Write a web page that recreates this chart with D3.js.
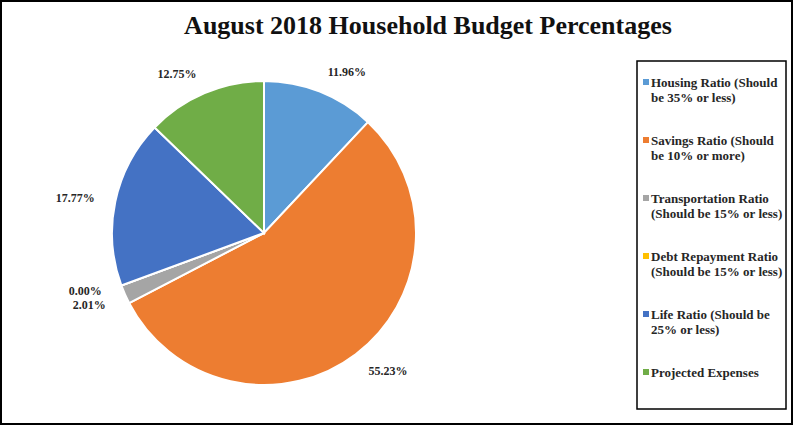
<!DOCTYPE html>
<html lang="en">
<head>
    <meta charset="utf-8">
    <title>August 2018 Household Budget Percentages</title>
    <script src="https://d3js.org/d3.v7.min.js"></script>
    <style>
        body { margin: 0; background: #fff; }
        text { font-family: "Liberation Serif", "DejaVu Serif", serif; font-weight: bold; }
    </style>
</head>
<body>
<div id="chart"></div>
<script>
    // Data
    var categories = [
        "Housing Ratio (Should be 35% or less)",
        "Savings Ratio (Should be 10% or more)",
        "Transportation Ratio (Should be 15% or less)",
        "Debt Repayment Ratio (Should be 15% or less)",
        "Life Ratio (Should be 25% or less)",
        "Projected Expenses"
    ]
    // legend lines, as wrapped in the picture
    var legendLines = [
        ["Housing Ratio (Should", "be 35% or less)"],
        ["Savings Ratio (Should", "be 10% or more)"],
        ["Transportation Ratio", "(Should be 15% or less)"],
        ["Debt Repayment Ratio", "(Should be 15% or less)"],
        ["Life Ratio (Should be", "25% or less)"],
        ["Projected Expenses"]
    ]
    var values = [11.96, 55.23, 2.01, 0.00, 17.77, 12.75]
    var colors = ["#5B9BD5", "#ED7D31", "#A5A5A5", "#FFC000", "#4472C4", "#70AD47"]

    var W = 793, H = 425
    var cx = 264, cy = 233, radius = 152

    var svg = d3.select("#chart")
        .append("svg")
        .attr("width", W)
        .attr("height", H)

    // outer frame
    svg.append("rect")
        .attr("x", 1).attr("y", 1)
        .attr("width", W - 2).attr("height", H - 2)
        .attr("fill", "#fff")
        .attr("stroke", "#000")
        .attr("stroke-width", 2)

    // title
    svg.append("text")
        .attr("x", 428)
        .attr("y", 34)
        .attr("text-anchor", "middle")
        .attr("font-size", 26)
        .attr("fill", "#111")
        .text("August 2018 Household Budget Percentages")

    var color = d3.scaleOrdinal().domain(categories).range(colors)

    var pie = d3.pie()
        .sort(null)
        .value(function (d) { return d.value })

    var rows = categories.map(function (c, i) { return { name: c, value: values[i] } })
    var arcs = pie(rows)

    var arc = d3.arc().innerRadius(0).outerRadius(radius)
    var labelArc = d3.arc().innerRadius(radius + 21).outerRadius(radius + 21)

    var g = svg.append("g")
        .attr("transform", "translate(" + cx + "," + cy + ")")

    g.selectAll("path")
        .data(arcs)
        .enter()
        .append("path")
        .attr("d", arc)
        .attr("fill", function (d) { return color(d.data.name) })
        .attr("stroke", "#fff")
        .attr("stroke-width", 2)

    // label positions, pushed apart a little when two sit too close
    var labelPos = arcs.map(function (d) {
        var p = labelArc.centroid(d)
        var mid = (d.startAngle + d.endAngle) / 2
        return { x: p[0], y: p[1], left: mid >= Math.PI }
    })
    var minGap = 14
    for (var i = 1; i < labelPos.length; i++) {
        var a = labelPos[i - 1], b = labelPos[i]
        if (a.left === b.left && Math.abs(a.y - b.y) < minGap) {
            var shift = (minGap - Math.abs(a.y - b.y)) / 2
            if (a.y < b.y) { a.y -= shift; b.y += shift } else { a.y += shift; b.y -= shift }
        }
    }

    // percentage labels outside the slices
    g.selectAll("text.lbl")
        .data(arcs)
        .enter()
        .append("text")
        .attr("class", "lbl")
        .attr("x", function (d, i) { return labelPos[i].x })
        .attr("y", function (d, i) { return labelPos[i].y })
        .attr("text-anchor", function (d, i) { return labelPos[i].left ? "end" : "start" })
        .attr("dy", "0.35em")
        .attr("font-size", 12)
        .attr("fill", "#262626")
        .text(function (d) { return d.data.value.toFixed(2) + "%" })

    // legend
    var legend = svg.append("g")
    legend.append("rect")
        .attr("x", 637).attr("y", 61)
        .attr("width", 149).attr("height", 348)
        .attr("fill", "none")
        .attr("stroke", "#000")
        .attr("stroke-width", 1.5)

    var item = legend.selectAll("g.item")
        .data(categories)
        .enter()
        .append("g")
        .attr("class", "item")
        .attr("transform", function (d, i) { return "translate(643," + (82 + i * 58) + ")" })

    item.append("rect")
        .attr("x", 0).attr("y", -3)
        .attr("width", 6).attr("height", 6)
        .attr("fill", function (d) { return color(d) })

    item.append("text")
        .attr("font-size", 13)
        .attr("fill", "#262626")
        .selectAll("tspan")
        .data(function (d, i) { return legendLines[i] })
        .enter()
        .append("tspan")
        .attr("x", 8)
        .attr("y", function (d, j) { return j * 15 })
        .attr("dy", "0.35em")
        .text(function (d) { return d })
</script>
</body>
</html>
